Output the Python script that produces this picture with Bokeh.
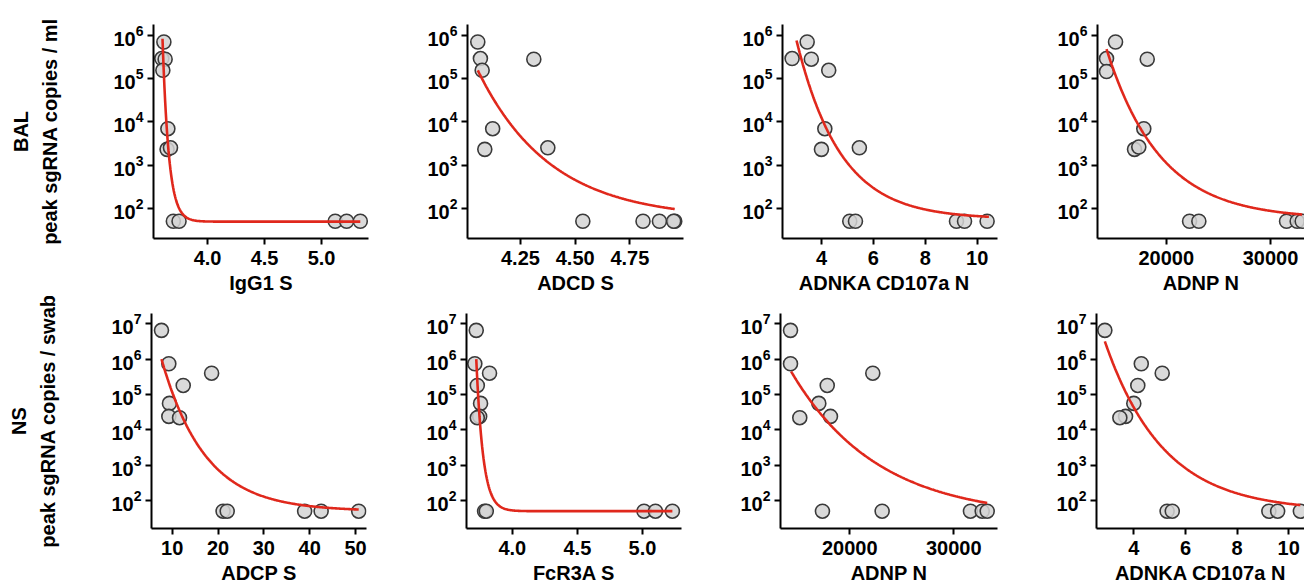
import numpy as np
from bokeh.plotting import figure
from bokeh.models import Range1d, FixedTicker, NumeralTickFormatter, Title
from bokeh.layouts import row, column
from bokeh.embed import file_html
from bokeh.resources import INLINE

# ---------------- data ----------------
# BAL row: peak sgRNA copies / ml
igg1_s_x = [3.617, 3.599, 3.628, 3.608, 3.652, 3.645, 3.675, 3.70, 3.75, 5.12, 5.22, 5.34]
igg1_s_y = [7e5, 2.9e5, 2.8e5, 1.55e5, 6.9e3, 2.3e3, 2.5e3, 50, 50, 50, 50, 50]

adcd_s_x = [4.055, 4.067, 4.311, 4.075, 4.123, 4.087, 4.375, 4.535, 4.81, 4.885, 4.955, 4.95]
adcd_s_y = [7e5, 2.9e5, 2.8e5, 1.55e5, 6.9e3, 2.3e3, 2.5e3, 50, 50, 50, 50, 50]

adnka_bal_x = [3.45, 2.87, 3.61, 4.28, 4.13, 4.0, 5.46, 5.09, 5.31, 9.2, 9.51, 10.38]
adnka_bal_y = [7e5, 2.9e5, 2.8e5, 1.55e5, 6.9e3, 2.3e3, 2.5e3, 50, 50, 50, 50, 50]

adnp_bal_x = [15140, 14275, 18180, 14275, 17850, 16960, 17370, 22240, 23130, 31540, 32560, 33040]
adnp_bal_y = [7e5, 2.9e5, 2.8e5, 1.45e5, 6.9e3, 2.3e3, 2.6e3, 50, 50, 50, 50, 50]

# NS row: peak sgRNA copies / swab
adcp_s_x = [7.66, 9.26, 18.6, 12.4, 9.4, 9.26, 11.6, 21.1, 22.0, 38.9, 42.5, 50.7]
adcp_s_y = [6.5e6, 7.4e5, 4.0e5, 1.8e5, 5.6e4, 2.4e4, 2.2e4, 50, 50, 50, 50, 50]

fcr3a_s_x = [3.723, 3.712, 3.825, 3.731, 3.756, 3.749, 3.731, 3.787, 3.80, 5.012, 5.10, 5.23]
fcr3a_s_y = [6.5e6, 7.4e5, 4.0e5, 1.8e5, 5.6e4, 2.4e4, 2.2e4, 50, 50, 50, 50, 50]

adnp_ns_x = [14300, 14300, 22210, 17830, 17020, 18140, 15190, 17370, 23110, 31600, 32730, 33210]
adnp_ns_y = [6.5e6, 7.4e5, 4.0e5, 1.8e5, 5.6e4, 2.4e4, 2.2e4, 50, 50, 50, 50, 50]

adnka_ns_x = [2.88, 4.29, 5.10, 4.155, 4.0, 3.68, 3.46, 5.29, 5.49, 9.23, 9.57, 10.45]
adnka_ns_y = [6.5e6, 7.4e5, 4.0e5, 1.8e5, 5.6e4, 2.4e4, 2.2e4, 50, 50, 50, 50, 50]

# fitted decay curves (log10 scale): x_start, x_end, log10 start, log10 plateau, rate
fit_igg1_s = (3.605, 5.34, 5.92, 1.69, 18.0)
fit_adcd_s = (4.055, 4.955, 5.19, 1.75, 3.0)
fit_adnka_bal = (3.04, 10.45, 5.88, 1.75, 0.59)
fit_adnp_bal = (14275, 33040, 5.68, 1.75, 1.93e-4)
fit_adcp_s = (7.66, 50.7, 6.00, 1.70, 0.105)
fit_fcr3a_s = (3.723, 5.23, 6.00, 1.70, 19.0)
fit_adnp_ns = (14360, 33210, 5.65, 1.50, 1.2e-4)
fit_adnka_ns = (2.88, 10.45, 6.50, 1.70, 0.44)

row_labels = ["BAL", "NS"]
y_labels = ["peak sgRNA copies / ml", "peak sgRNA copies / swab"]
x_labels_bal = ["IgG1 S", "ADCD S", "ADNKA  CD107a  N", "ADNP N"]
x_labels_ns = ["ADCP S", "FcR3A S", "ADNP N", "ADNKA CD107a N"]

yticks_bal = [1e2, 1e3, 1e4, 1e5, 1e6]
yticks_ns = [1e2, 1e3, 1e4, 1e5, 1e6, 1e7]

# ---------------- styling ----------------
FONT = "Liberation Sans"
FILL = "#d3d3d3"
EDGE = "#3a3a3a"
RED = "#e0281c"


def panel(x, y, fit, xlabel, xticks, xfmt, xr, yr, yticks, left, fw, fh, right,
          top, bottom, ylabel=None, rowlabel=None):
    p = figure(x_range=Range1d(*xr), y_range=Range1d(*yr), y_axis_type="log",
               frame_width=fw, frame_height=fh, min_border_left=left,
               min_border_right=right, min_border_top=top, min_border_bottom=bottom,
               toolbar_location=None, output_backend="svg")
    p.grid.visible = False
    p.outline_line_color = None
    p.background_fill_color = "white"
    p.border_fill_color = "white"

    x0, x1, ltop, lfloor, k = fit
    xs = np.linspace(x0, x1, 300)
    ys = 10 ** (lfloor + (ltop - lfloor) * np.exp(-k * (xs - x0)))

    p.scatter(x, y, size=14, fill_color=FILL, line_color=EDGE, line_width=1.6,
              fill_alpha=0.85)
    p.line(xs, ys, line_color=RED, line_width=2.6)

    p.xaxis.ticker = FixedTicker(ticks=xticks)
    p.xaxis.formatter = NumeralTickFormatter(format=xfmt)
    p.yaxis.ticker = FixedTicker(ticks=yticks)
    p.xaxis.axis_label = xlabel
    for ax in p.axis:
        ax.axis_line_width = 2
        ax.axis_line_color = "black"
        ax.major_tick_line_width = 2
        ax.major_tick_line_color = "black"
        ax.major_tick_out = 6
        ax.major_tick_in = 0
        ax.minor_tick_out = 0
        ax.minor_tick_in = 0
        ax.major_label_text_font = FONT
        ax.major_label_text_font_style = "bold"
        ax.major_label_text_font_size = "20px"
        ax.major_label_text_color = "black"
        ax.axis_label_text_font = FONT
        ax.axis_label_text_font_style = "bold"
        ax.axis_label_text_font_size = "20px"
        ax.axis_label_text_color = "black"
    p.xaxis.major_label_standoff = 6
    p.xaxis.axis_label_standoff = 4
    p.yaxis.major_label_standoff = 4
    if ylabel:
        p.yaxis.axis_label = ylabel
        p.yaxis.axis_label_standoff = 49
    if rowlabel:
        p.add_layout(Title(text=rowlabel, align="center", text_font=FONT,
                           text_font_style="bold", text_font_size="20px",
                           text_color="black", standoff=10), "left")
    return p


yr_bal = (10 ** 1.30, 10 ** 6.25)
yr_ns = (10 ** 1.21, 10 ** 7.29)

p1 = panel(igg1_s_x, igg1_s_y, fit_igg1_s, x_labels_bal[0], [4.0, 4.5, 5.0], "0.0",
           (3.526, 5.412), yr_bal, yticks_bal, 153, 215, 214, 19, 24, 58,
           y_labels[0], row_labels[0])
p2 = panel(adcd_s_x, adcd_s_y, fit_adcd_s, x_labels_bal[1], [4.25, 4.50, 4.75], "0.00",
           (4.008, 4.995), yr_bal, yticks_bal, 80, 216, 214, 19, 24, 58)
p3 = panel(adnka_bal_x, adnka_bal_y, fit_adnka_bal, x_labels_bal[2], [4, 6, 8, 10], "0",
           (2.50, 10.78), yr_bal, yticks_bal, 80, 215, 214, 19, 24, 58)
p4 = panel(adnp_bal_x, adnp_bal_y, fit_adnp_bal, x_labels_bal[3], [20000, 30000], "0",
           (13410, 33263), yr_bal, yticks_bal, 81, 207, 214, 0, 24, 58)

p5 = panel(adcp_s_x, adcp_s_y, fit_adcp_s, x_labels_ns[0], [10, 20, 30, 40, 50], "0",
           (5.48, 52.4), yr_ns, yticks_ns, 151, 215, 215, 19, 17, 58,
           y_labels[1], row_labels[1])
p6 = panel(fcr3a_s_x, fcr3a_s_y, fit_fcr3a_s, x_labels_ns[1], [4.0, 4.5, 5.0], "0.0",
           (3.648, 5.30), yr_ns, yticks_ns, 81, 215, 215, 19, 17, 58)
p7 = panel(adnp_ns_x, adnp_ns_y, fit_adnp_ns, x_labels_ns[2], [20000, 30000], "0",
           (13337, 34200), yr_ns, yticks_ns, 80, 217, 215, 19, 17, 58)
p8 = panel(adnka_ns_x, adnka_ns_y, fit_adnka_ns, x_labels_ns[3], [4, 6, 8, 10], "0",
           (2.556, 10.61), yr_ns, yticks_ns, 80, 208, 215, 0, 17, 58)

layout = column(row(p1, p2, p3, p4, spacing=0), row(p5, p6, p7, p8, spacing=0), spacing=0)

open("out.html", "w").write(file_html(layout, INLINE))
